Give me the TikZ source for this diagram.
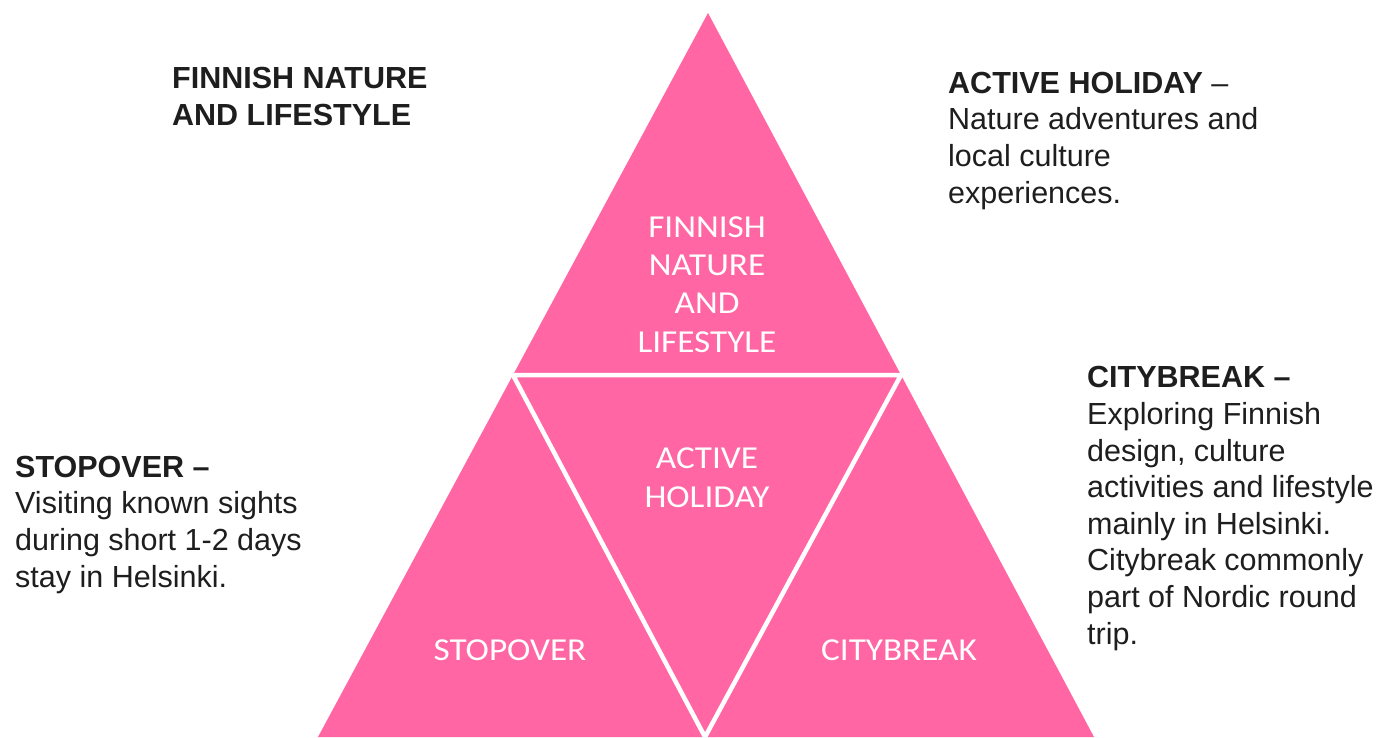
\documentclass[tikz,border=0pt]{standalone}
\usepackage{fontspec}
\setmainfont{Liberation Sans}
\newfontfamily\labelfont[FakeStretch=1.1]{Carlito}
\definecolor{pyrpink}{HTML}{FF66A3}
\definecolor{inkgrey}{HTML}{1E1E1E}
\begin{document}
\begin{tikzpicture}[x=1pt,y=-1pt,
  seg/.style={fill=pyrpink},
  gap/.style={draw=white,line width=4.5pt},
  inlabel/.style={text=white,font=\labelfont\fontsize{32}{38.3}\selectfont,align=center,anchor=base,inner sep=0pt},
  sidetext/.style={text=inkgrey,font=\fontsize{30.5}{36.6}\selectfont,align=left,anchor=base west,inner sep=0pt}]
  \useasboundingbox[fill=white] (0,0) rectangle (1378,737);
  % pyramid outline and its subdivision
  \coordinate (apex) at (708,13);
  \coordinate (bl) at (318,737);
  \coordinate (br) at (1094,737);
  \coordinate (ml) at (513,375);
  \coordinate (mr) at (901,375);
  \coordinate (mb) at (705,737);
  \fill[seg] (apex) -- (bl) -- (br) -- cycle;
  \draw[gap] (ml) -- (mr) -- (mb) -- cycle;
  % labels inside the segments (anchored at the baseline of the last line)
  \node[inlabel] (topl) at (707,352) {FINNISH\\NATURE\\AND\\LIFESTYLE};
  \node[inlabel] (midl) at (707,507) {ACTIVE\\HOLIDAY};
  \node[inlabel] (leftl) at (510,660) {STOPOVER};
  \node[inlabel] (rightl) at (899,660) {CITYBREAK};
  % descriptions around the pyramid
  \node[sidetext] (natdesc) at (172,125) {\textbf{FINNISH NATURE}\\\textbf{AND LIFESTYLE}};
  \node[sidetext] (actdesc) at (948,203) {\textbf{ACTIVE HOLIDAY} –\\Nature adventures and\\local culture\\experiences.};
  \node[sidetext] (citydesc) at (1087,644) {\textbf{CITYBREAK –}\\Exploring Finnish\\design, culture\\activities and lifestyle\\mainly in Helsinki.\\Citybreak commonly\\part of Nordic round\\trip.};
  \node[sidetext] (stopdesc) at (15,587) {\textbf{STOPOVER –}\\Visiting known sights\\during short 1-2 days\\stay in Helsinki.};
\end{tikzpicture}
\end{document}
